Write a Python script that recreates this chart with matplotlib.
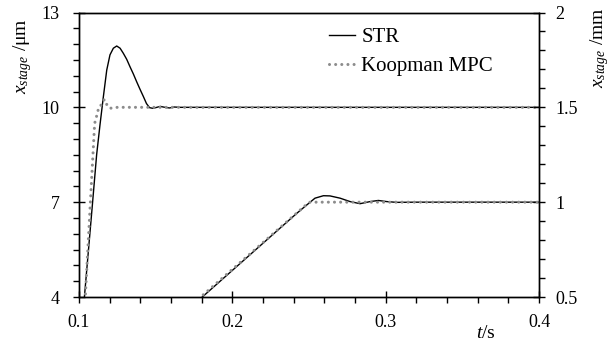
import matplotlib
matplotlib.use("Agg")
import matplotlib.pyplot as plt
from matplotlib.lines import Line2D

plt.rcParams['font.family'] = ['Liberation Serif', 'DejaVu Serif']
plt.rcParams['mathtext.fontset'] = 'custom'
plt.rcParams['mathtext.rm'] = 'Liberation Serif'
plt.rcParams['mathtext.it'] = 'Liberation Serif:italic'

# Step response (left axis, um)
str_step_t = [0.100, 0.1037, 0.1087, 0.1115, 0.1137, 0.1159, 0.1181, 0.1202, 0.1224, 0.1246,
              0.1268, 0.1289, 0.1311, 0.1333, 0.1355, 0.1376, 0.1398, 0.1420, 0.1440,
              0.1460, 0.1480, 0.1500, 0.1530, 0.1560, 0.1590, 0.1620, 0.1660, 0.4000]
str_step_v = [2.0, 4.1, 6.9, 8.5, 9.45, 10.34, 11.18, 11.66, 11.87, 11.94,
              11.87, 11.71, 11.52, 11.28, 11.05, 10.81, 10.57, 10.34, 10.12,
              9.99, 9.97, 9.99, 10.03, 10.00, 9.98, 10.01, 10.00, 10.00]
mpc_step_t = [0.100, 0.1041, 0.1072, 0.1102, 0.1117, 0.1129, 0.1150, 0.1165, 0.1185,
              0.1202, 0.1250, 0.4000]
mpc_step_v = [0.3, 4.0, 6.8, 9.49, 9.76, 10.0, 10.1, 10.25, 10.05, 9.97, 10.0, 10.0]

# Ramp response (right axis, mm)
str_ramp_t = [0.175, 0.1804, 0.2420, 0.2485, 0.2539, 0.2594, 0.2637, 0.2703, 0.2768,
              0.2833, 0.2898, 0.2952, 0.3007, 0.3072, 0.3200, 0.4000]
str_ramp_v = [0.461, 0.500, 0.941, 0.985, 1.021, 1.034, 1.033, 1.021, 1.003,
              0.992, 1.003, 1.009, 1.003, 0.999, 1.000, 1.000]
mpc_ramp_t = [0.175, 0.1794, 0.2480, 0.2507, 0.4000]
mpc_ramp_v = [0.469, 0.500, 0.985, 1.000, 1.000]

x_ticks = [0.1, 0.2, 0.3, 0.4]
y_left_ticks = [4, 7, 10, 13]
y_right_ticks = [0.5, 1.0, 1.5, 2.0]
y_right_labels = ['0.5', '1', '1.5', '2']

fig = plt.figure(figsize=(6.12, 3.42), dpi=100)
ax = fig.add_axes([79/612, 1-297/342, 460/612, (297-12.5)/342])
ax2 = ax.twinx()

dot_style = dict(color='#8c8c8c', lw=2.2, linestyle=(0, (0.01, 2.0)),
                 dash_capstyle='round')
sol_style = dict(color='black', lw=1.0)

ax.plot(str_step_t, str_step_v, **sol_style)
ax.plot(mpc_step_t, mpc_step_v, **dot_style)
ax2.plot(str_ramp_t, str_ramp_v, **sol_style)
ax2.plot(mpc_ramp_t, mpc_ramp_v, **dot_style)

ax.set_xlim(0.1, 0.4)
ax.set_ylim(4, 13)
ax2.set_ylim(0.5, 2.0)
ax.set_xticks(x_ticks)
ax.set_xticklabels(['0.1', '0.2', '0.3', '0.4'])
ax.set_yticks(y_left_ticks)
ax2.set_yticks(y_right_ticks)
ax2.set_yticklabels(y_right_labels)
ax.set_xticks([0.1 + 0.02*i for i in range(16)], minor=True)
ax.set_yticks([4 + 0.5*i for i in range(19)], minor=True)
ax2.set_yticks([0.5 + 0.1*i for i in range(16)], minor=True)

for a in (ax, ax2):
    a.tick_params(which='major', direction='inout', length=8, width=1.0,
                  labelsize=13, pad=8, color='black')
    a.tick_params(which='minor', direction='out', length=4, width=1.0)
    for s in a.spines.values():
        s.set_linewidth(1.0)
ax.tick_params(axis='x', which='major', pad=8)
ax.tick_params(axis='y', which='major', pad=10)

fig.text(23/612, 1-56/342, r'$x_{stage}$ /μm', rotation=90, ha='center', va='center', fontsize=14)
fig.text(600/612, 1-48/342, r'$x_{stage}$ /mm', rotation=90, ha='center', va='center', fontsize=14)
fig.text(486/612, 1-334/342, r'$t$/s', ha='center', va='center', fontsize=14)

handles = [Line2D([], [], **sol_style), Line2D([], [], **dot_style)]
leg = ax.legend(handles, ['STR', 'Koopman MPC'], loc='upper left',
                bbox_to_anchor=(321/612, 1-19/342), bbox_transform=fig.transFigure,
                frameon=False, fontsize=15, handlelength=1.25, handletextpad=0.28,
                labelspacing=0.48, borderaxespad=0)

fig.savefig('out.png', dpi=100)
